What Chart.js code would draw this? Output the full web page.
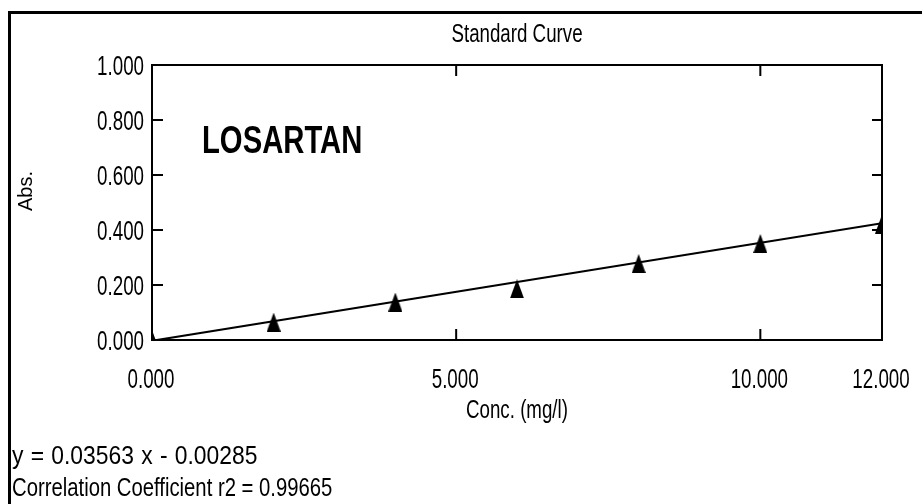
<!DOCTYPE html>
<html>
<head>
<meta charset="utf-8">
<title>Standard Curve</title>
<script src="https://cdn.jsdelivr.net/npm/chart.js@4.4.1/dist/chart.umd.min.js"></script>
<style>
  html, body { margin: 0; padding: 0; background: #fff; }
  #wrap { position: relative; width: 922px; height: 504px; }
</style>
</head>
<body>
<div id="wrap"><canvas id="myChart" width="922" height="504"></canvas></div>
<script>
// measured standards
const concs = [0, 2, 4, 6, 8, 10, 12];
const absorbances = [0.002, 0.065, 0.138, 0.186, 0.278, 0.351, 0.421];

// fitted line, read at both ends of the axis
const fitConcs = [0, 12];
const fitAbs = [-0.003, 0.425];

const xTicks = [0, 5, 10, 12];
const yTicks = [0, 0.2, 0.4, 0.6, 0.8, 1.0];

const chartTitle = "Standard Curve";
const xTitle = "Conc. (mg/l)";
const yTitle = "Abs.";
const compoundName = "LOSARTAN";
const equationLines = ["y = 0.03563 x - 0.00285", "Correlation Coefficient r2 = 0.99665"];

const SANS = "'Liberation Sans', Arial, sans-serif";

// the original uses a very condensed face, so squeeze Arial-like text sideways
function squishText(ctx, text, x, y, size, k, align, weight, wordGap) {
  ctx.save();
  ctx.font = (weight || "normal") + " " + size + "px " + SANS;
  ctx.textAlign = align || "left";
  ctx.textBaseline = "alphabetic";
  ctx.fillStyle = "#000";
  if (wordGap) ctx.wordSpacing = wordGap + "px";
  ctx.translate(x, y);
  ctx.scale(k, 1);
  ctx.fillText(text, 0, 0);
  ctx.restore();
}

// tall filled triangle used as marker
function makeTriangle() {
  const c = document.createElement("canvas");
  c.width = 14;
  c.height = 19;
  const g = c.getContext("2d");
  g.fillStyle = "#000";
  g.beginPath();
  g.moveTo(7, 0);
  g.lineTo(14, 19);
  g.lineTo(0, 19);
  g.closePath();
  g.fill();
  return c;
}

const decorations = {
  id: "decorations",
  beforeDraw(chart) {
    const ctx = chart.ctx;
    ctx.save();
    ctx.fillStyle = "#fff";
    ctx.fillRect(0, 0, chart.width, chart.height);
    ctx.fillStyle = "#000";
    ctx.fillRect(8, 11, 3, chart.height);
    ctx.fillRect(8, 11, chart.width, 3);
    ctx.restore();
  },
  afterDraw(chart) {
    const ctx = chart.ctx;
    const a = chart.chartArea;
    const x = chart.scales.x;
    const y = chart.scales.y;
    const midX = (a.left + a.right) / 2;

    // frame + inward tick marks
    ctx.save();
    ctx.strokeStyle = "#000";
    ctx.lineWidth = 2;
    ctx.strokeRect(a.left, a.top, a.right - a.left, a.bottom - a.top);
    ctx.beginPath();
    x.ticks.forEach((t) => {
      if (t.value <= x.min || t.value >= x.max) return;
      const px = x.getPixelForValue(t.value);
      ctx.moveTo(px, a.bottom);
      ctx.lineTo(px, a.bottom - 11);
      ctx.moveTo(px, a.top);
      ctx.lineTo(px, a.top + 11);
    });
    y.ticks.forEach((t) => {
      if (t.value <= y.min || t.value >= y.max) return;
      const py = y.getPixelForValue(t.value);
      ctx.moveTo(a.left, py);
      ctx.lineTo(a.left + 11, py);
      ctx.moveTo(a.right, py);
      ctx.lineTo(a.right - 10, py);
    });
    ctx.stroke();
    ctx.restore();

    // tick labels
    x.ticks.forEach((t) => {
      squishText(ctx, t.value.toFixed(3), x.getPixelForValue(t.value) - 1, a.bottom + 48, 28, 0.67, "center");
    });
    y.ticks.forEach((t) => {
      squishText(ctx, t.value.toFixed(3), a.left - 8, y.getPixelForValue(t.value) + 10, 28, 0.67, "right");
    });

    // titles
    squishText(ctx, chartTitle, midX, 42, 26, 0.72, "center");
    squishText(ctx, xTitle, midX, 418, 26, 0.72, "center");
    ctx.save();
    ctx.translate(32, 191);
    ctx.rotate(-Math.PI / 2);
    ctx.font = "20px " + SANS;
    ctx.fillStyle = "#000";
    ctx.textAlign = "center";
    ctx.textBaseline = "alphabetic";
    ctx.fillText(yTitle, 0, 0);
    ctx.restore();

    squishText(ctx, compoundName, 202, 153, 38, 0.77, "left", "bold");

    squishText(ctx, equationLines[0], 12, 464, 26, 0.88, "left", "normal", 1);
    squishText(ctx, equationLines[1], 12, 496, 26, 0.78, "left");
  },
};

new Chart(document.getElementById("myChart"), {
  type: "scatter",
  data: {
    datasets: [
      {
        label: "Fit",
        data: fitConcs.map((c, i) => ({ x: c, y: fitAbs[i] })),
        showLine: true,
        borderColor: "#000",
        borderWidth: 2,
        pointRadius: 0,
        clip: 0,
      },
      {
        label: "Standards",
        data: concs.map((c, i) => ({ x: c, y: absorbances[i] })),
        pointStyle: makeTriangle(),
        pointRadius: 7,
        clip: 0,
      },
    ],
  },
  plugins: [decorations],
  options: {
    responsive: false,
    animation: false,
    layout: { padding: { left: 152, right: 40, top: 65, bottom: 164 } },
    plugins: {
      legend: { display: false },
      tooltip: { enabled: false },
    },
    scales: {
      x: {
        type: "linear",
        min: 0,
        max: 12,
        grid: { display: false, drawTicks: false },
        border: { display: false },
        ticks: { display: false },
        afterBuildTicks: (s) => { s.ticks = xTicks.map((v) => ({ value: v })); },
        afterFit: (s) => { s.height = 0; },
      },
      y: {
        type: "linear",
        min: 0,
        max: 1,
        grid: { display: false, drawTicks: false },
        border: { display: false },
        ticks: { display: false },
        afterBuildTicks: (s) => { s.ticks = yTicks.map((v) => ({ value: v })); },
        afterFit: (s) => { s.width = 0; },
      },
    },
  },
});
</script>
</body>
</html>
